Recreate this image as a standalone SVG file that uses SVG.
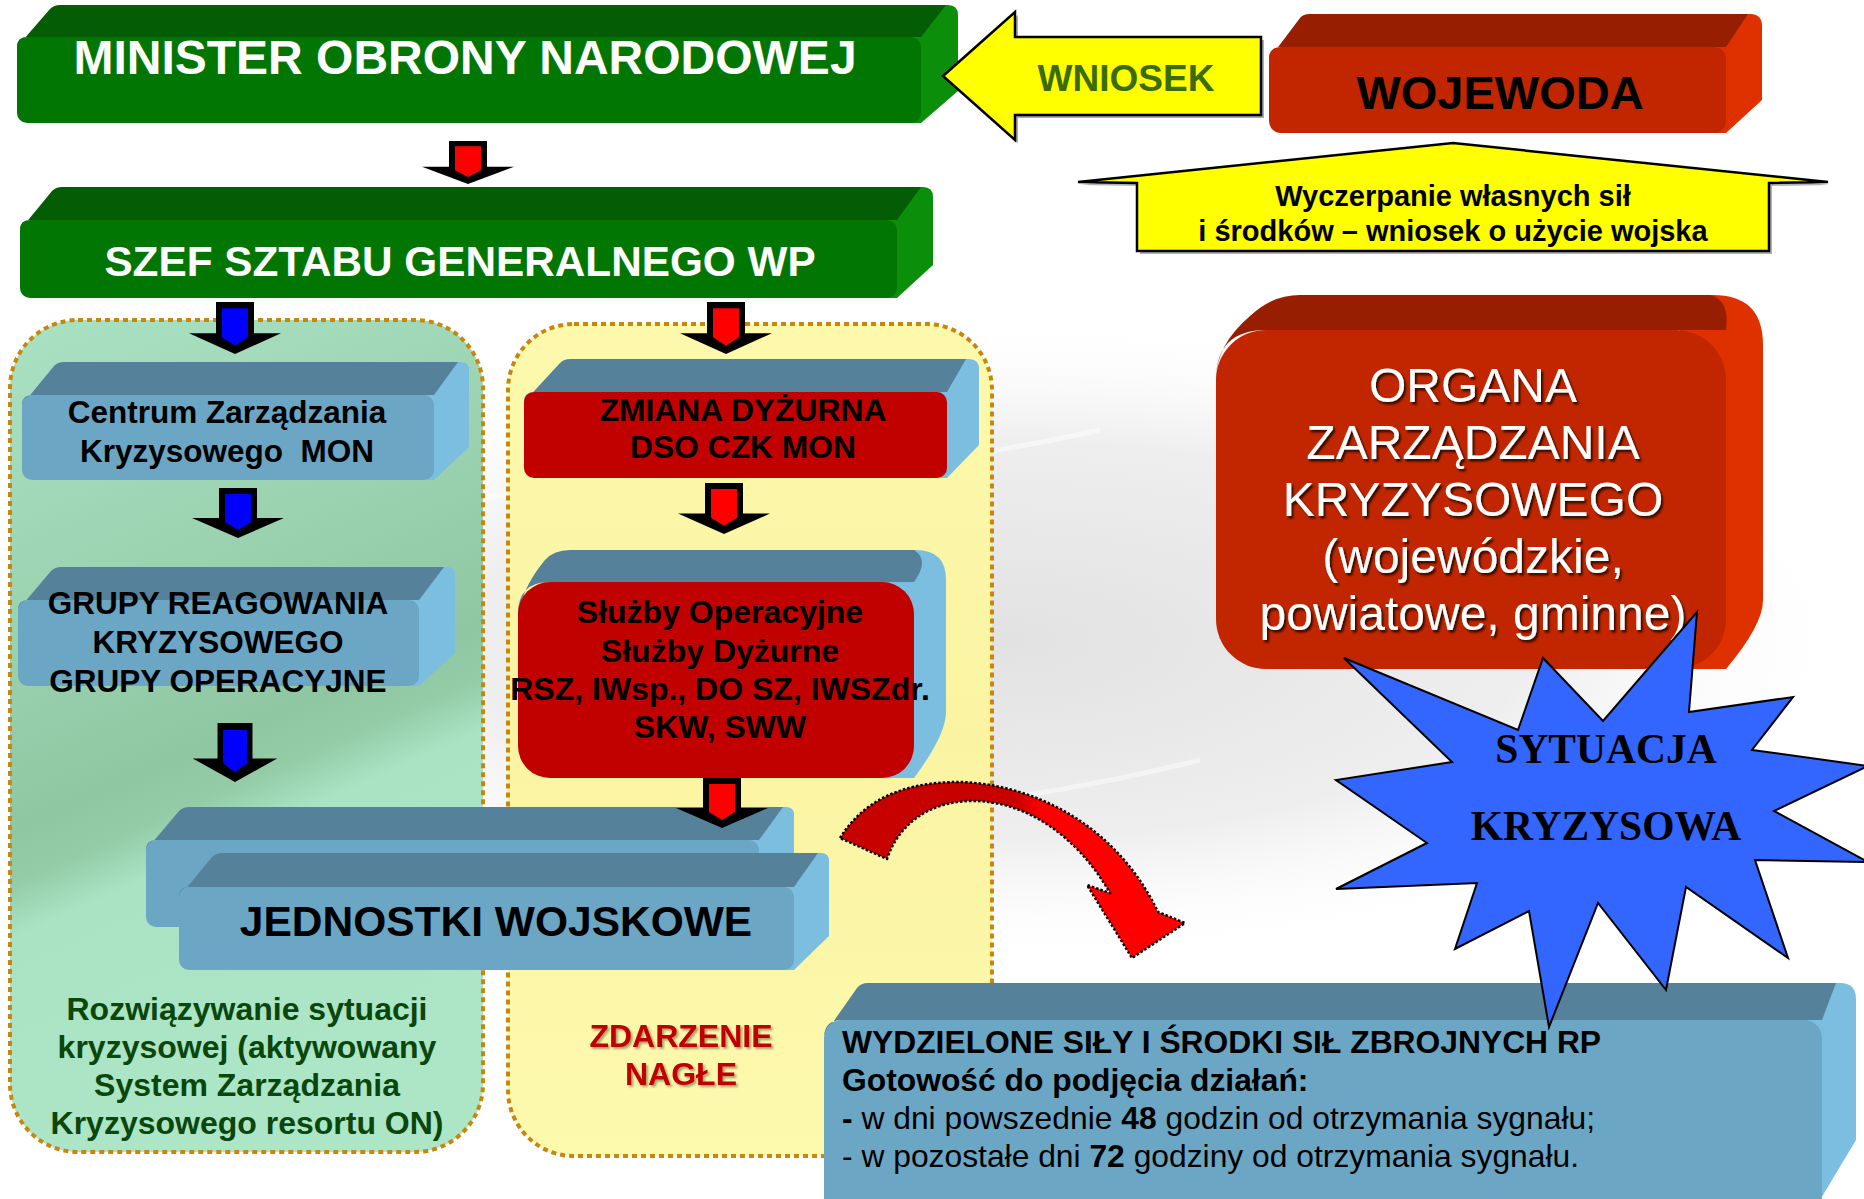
<svg xmlns="http://www.w3.org/2000/svg" xmlns:xlink="http://www.w3.org/1999/xlink" width="1864" height="1199" viewBox="0 0 1864 1199">
<defs>
<style>
.b{font-family:"Liberation Sans",Arial,sans-serif;font-weight:bold}
.r{font-family:"Liberation Sans",Arial,sans-serif}
.t{font-family:"Liberation Serif","Times New Roman",serif;font-weight:bold}
.cont{stroke:#c8860c;stroke-width:4;stroke-dasharray:5 4}
.arrowOut{fill:#000}
.gTop{fill:#045d04}.gFront{fill:#027602}.gSide{fill:#0b8f0b}
.rTop{fill:#971e00}.rFront{fill:#c12600}.rSide{fill:#df3100}
.bTop{fill:#55829a}.bFront{fill:#6ba6c4}.bSide{fill:#7cbee0}
.redFront{fill:#c10000}
</style>
<radialGradient id="bgGray" cx="0.5" cy="0.5" r="0.5">
<stop offset="0" stop-color="#e2e2e2"/>
<stop offset="0.6" stop-color="#eeeeee"/>
<stop offset="1" stop-color="#ffffff" stop-opacity="0"/>
</radialGradient>
<linearGradient id="greenCont" x1="0" y1="0" x2="0.25" y2="1">
<stop offset="0" stop-color="#a9e1c3"/>
<stop offset="0.35" stop-color="#9bd3b1"/>
<stop offset="0.58" stop-color="#8fc7a3"/>
<stop offset="0.64" stop-color="#93cca7"/>
<stop offset="0.7" stop-color="#aae3c4"/>
<stop offset="1" stop-color="#ade5c7"/>
</linearGradient>
<linearGradient id="yellowCont" x1="0" y1="0" x2="0" y2="1">
<stop offset="0" stop-color="#fdf9ac"/>
<stop offset="0.5" stop-color="#faf4a2"/>
<stop offset="1" stop-color="#fdf9ad"/>
</linearGradient>
<linearGradient id="curveGrad" gradientUnits="userSpaceOnUse" x1="840" y1="0" x2="1190" y2="0">
<stop offset="0" stop-color="#c70000"/>
<stop offset="0.5" stop-color="#c70000"/>
<stop offset="0.58" stop-color="#ff0000"/>
<stop offset="1" stop-color="#ff0000"/>
</linearGradient>
<filter id="txtShadow" x="-10%" y="-10%" width="120%" height="130%">
<feDropShadow dx="2" dy="2.5" stdDeviation="1" flood-color="#000" flood-opacity="0.75"/>
</filter>
<filter id="txtShadowLight" x="-10%" y="-10%" width="120%" height="130%">
<feDropShadow dx="2" dy="2" stdDeviation="1" flood-color="#000" flood-opacity="0.35"/>
</filter>
<g id="arrowRed">
<polygon class="arrowOut" points="-19,0 19,0 19,30 46,30 0,50 -46,30 -19,30"/>
<polygon fill="#ff0000" points="-13,6 13,6 13,34 0,42 -13,34"/>
</g>
<g id="arrowBlue">
<polygon class="arrowOut" points="-19,0 19,0 19,30 46,30 0,50 -46,30 -19,30"/>
<polygon fill="#0000ff" points="-13,6 13,6 13,34 0,42 -13,34"/>
</g>
</defs>

<!-- background -->
<rect width="1864" height="1199" fill="#ffffff"/>
<ellipse cx="1000" cy="640" rx="880" ry="330" fill="url(#bgGray)"/>
<path d="M0,560 C300,470 700,520 1100,430" fill="none" stroke="#ffffff" stroke-width="5" opacity="0.45"/>
<path d="M0,860 C400,820 800,860 1200,760" fill="none" stroke="#ffffff" stroke-width="5" opacity="0.45"/>

<!-- containers -->
<g id="containerGreen">
<rect class="cont" x="10" y="320" width="473" height="832" rx="68" ry="68" fill="url(#greenCont)"/>
</g>
<g id="containerYellow">
<rect class="cont" x="508" y="324" width="484" height="832" rx="66" ry="66" fill="url(#yellowCont)"/>
</g>

<!-- MINISTER -->
<g id="minister">
<path class="gSide" d="M901,37 L930,5 L948,5 Q958,5 958,15 L958,91 L921,123 L901,123 Z"/>
<path class="gTop" d="M17,47 L50,9 Q54,5 60,5 L946,5 L921,37 L27,37 Q17,37 17,47 Z"/>
<rect class="gFront" x="17" y="37" width="904" height="86" rx="10"/>
<text class="b" x="465" y="74" font-size="48" fill="#ffffff" text-anchor="middle">MINISTER OBRONY NARODOWEJ</text>
</g>

<!-- SZEF -->
<g id="szef">
<path class="gSide" d="M877,220 L905,187 L923,187 Q933,187 933,197 L933,265 L897,298 L877,298 Z"/>
<path class="gTop" d="M20,230 L52,191 Q56,187 62,187 L921,187 L897,220 L30,220 Q20,220 20,230 Z"/>
<rect class="gFront" x="20" y="220" width="877" height="78" rx="10"/>
<text class="b" x="460" y="276" font-size="42.3" fill="#ffffff" text-anchor="middle">SZEF SZTABU GENERALNEGO WP</text>
</g>

<!-- WOJEWODA -->
<g id="wojewoda">
<path class="rSide" d="M1706,47 L1735,14 L1750,14 Q1762,14 1762,26 L1762,100 L1726,133 L1706,133 Z"/>
<path class="rTop" d="M1269,59 L1300,18 Q1303,14 1310,14 L1748,14 L1726,47 L1281,47 Q1269,47 1269,59 Z"/>
<rect class="rFront" x="1269" y="47" width="457" height="86" rx="12"/>
<text class="b" x="1500" y="109" font-size="47" fill="#000000" text-anchor="middle">WOJEWODA</text>
</g>

<!-- WNIOSEK arrow -->
<g id="wniosek">
<polygon points="946,79 1018,15 1018,40 1264,40 1264,118 1018,118 1018,143" fill="#555" opacity="0.5"/>
<polygon points="943,76 1015,12 1015,37 1261,37 1261,115 1015,115 1015,140" fill="#ffff00" stroke="#000" stroke-width="2.5"/>
<text class="b" x="1126" y="91" font-size="37" fill="#3c6b0b" text-anchor="middle">WNIOSEK</text>
</g>

<!-- Yellow up arrow -->
<g id="wyczerpanie">
<polygon points="1455,146 1830,185 1772,186 1772,254 1140,254 1140,186 1080,185" fill="#555" opacity="0.45"/>
<polygon points="1453,143 1828,182 1769,183 1769,251 1137,251 1137,183 1078,182" fill="#ffff00" stroke="#000" stroke-width="2.5"/>
<text class="b" x="1453" y="206" font-size="29" fill="#000" text-anchor="middle">Wyczerpanie własnych sił</text>
<text class="b" x="1453" y="241" font-size="29" fill="#000" text-anchor="middle">i środków – wniosek o użycie wojska</text>
</g>

<!-- ORGANA -->
<g id="organa">
<path class="rSide" d="M1680,330 L1700,295 L1713,295 Q1763,295 1763,345 L1763,600 Q1763,625 1726,669 L1680,669 Z"/>
<path class="rTop" d="M1216,380 Q1216,345 1250,316 Q1272,295 1300,295 L1710,295 Q1730,300 1726,330 L1266,330 Q1216,330 1216,380 Z"/>
<rect class="rFront" x="1216" y="330" width="510" height="339" rx="50"/>
<g filter="url(#txtShadow)">
<text class="r" x="1473" y="402" font-size="48" fill="#ffffff" text-anchor="middle">ORGANA</text>
<text class="r" x="1473" y="459" font-size="48" fill="#ffffff" text-anchor="middle">ZARZĄDZANIA</text>
<text class="r" x="1473" y="516" font-size="48" fill="#ffffff" text-anchor="middle">KRYZYSOWEGO</text>
<text class="r" x="1473" y="573" font-size="48" fill="#ffffff" text-anchor="middle">(wojewódzkie,</text>
<text class="r" x="1473" y="630" font-size="48" fill="#ffffff" text-anchor="middle">powiatowe, gminne)</text>
</g>
</g>

<!-- Centrum -->
<g id="centrum">
<path class="bSide" d="M414,395 L443,362 L461,362 Q469,362 469,370 L469,447 L434,480 L414,480 Z"/>
<path class="bTop" d="M22,405 L54,366 Q58,362 64,362 L458,362 L434,395 L32,395 Q22,395 22,405 Z"/>
<rect class="bFront" x="22" y="395" width="412" height="85" rx="10"/>
<text class="b" x="227" y="423" font-size="31.5" fill="#000" text-anchor="middle">Centrum Zarządzania</text>
<text class="b" x="227" y="462" font-size="31.5" fill="#000" text-anchor="middle" xml:space="preserve">Kryzysowego  MON</text>
</g>

<!-- Grupy -->
<g id="grupy">
<path class="bSide" d="M399,600 L428,567 L447,567 Q455,567 455,575 L455,653 L419,686 L399,686 Z"/>
<path class="bTop" d="M18,610 L51,571 Q55,567 61,567 L444,567 L419,600 L28,600 Q18,600 18,610 Z"/>
<rect class="bFront" x="18" y="600" width="401" height="86" rx="10"/>
<text class="b" x="218" y="614" font-size="31.5" fill="#000" text-anchor="middle">GRUPY REAGOWANIA</text>
<text class="b" x="218" y="653" font-size="31.5" fill="#000" text-anchor="middle">KRYZYSOWEGO</text>
<text class="b" x="218" y="692" font-size="31.5" fill="#000" text-anchor="middle">GRUPY OPERACYJNE</text>
</g>

<!-- Zmiana -->
<g id="zmiana">
<path class="bSide" d="M927,392 L955,359 L969,359 Q979,359 979,369 L979,445 L947,478 L927,478 Z"/>
<path class="bTop" d="M524,402 L560,363 Q564,359 570,359 L966,359 L947,392 L534,392 Q524,392 524,402 Z"/>
<rect class="redFront" x="524" y="392" width="423" height="86" rx="10"/>
<text class="b" x="743" y="421" font-size="31.8" fill="#000" text-anchor="middle">ZMIANA DYŻURNA</text>
<text class="b" x="743" y="458" font-size="31.8" fill="#000" text-anchor="middle">DSO CZK MON</text>
</g>

<!-- Służby -->
<g id="sluzby">
<path class="bSide" d="M880,582 L900,550 L916,550 Q946,550 946,580 L946,712 Q946,735 914,778 L880,778 Z"/>
<path class="bTop" d="M518,620 Q520,590 545,560 Q554,550 570,550 L914,550 Q930,560 914,582 L550,582 Q518,582 518,614 Z"/>
<rect class="redFront" x="518" y="582" width="396" height="196" rx="32"/>
<text class="b" x="720" y="623" font-size="32" fill="#000" text-anchor="middle">Służby Operacyjne</text>
<text class="b" x="720" y="662" font-size="32" fill="#000" text-anchor="middle">Służby Dyżurne</text>
<text class="b" x="720" y="700" font-size="32" fill="#000" text-anchor="middle">RSZ, IWsp., DO SZ, IWSZdr.</text>
<text class="b" x="720" y="738" font-size="32" fill="#000" text-anchor="middle">SKW, SWW</text>
</g>

<!-- Jednostki -->
<g id="jednostki">
<path class="bSide" d="M739,840 L768,807 L786,807 Q794,807 794,815 L794,894 L759,927 L739,927 Z"/>
<path class="bTop" d="M146,850 L179,811 Q183,807 189,807 L783,807 L759,840 L156,840 Q146,840 146,850 Z"/>
<rect class="bFront" x="146" y="840" width="613" height="87" rx="10"/>
<path class="bSide" d="M774,887 L803,853 L821,853 Q829,853 829,861 L829,936 L794,970 L774,970 Z"/>
<path class="bTop" d="M179,897 L212,857 Q216,853 222,853 L818,853 L794,887 L189,887 Q179,887 179,897 Z"/>
<rect class="bFront" x="179" y="887" width="615" height="83" rx="10"/>
<text class="b" x="496" y="936" font-size="42.5" fill="#000" text-anchor="middle">JEDNOSTKI WOJSKOWE</text>
</g>

<!-- Container texts -->
<g id="rozwiazywanie">
<text class="b" x="247" y="1020" font-size="32" fill="#0a470a" text-anchor="middle">Rozwiązywanie sytuacji</text>
<text class="b" x="247" y="1058" font-size="32" fill="#0a470a" text-anchor="middle">kryzysowej (aktywowany</text>
<text class="b" x="247" y="1096" font-size="32" fill="#0a470a" text-anchor="middle">System Zarządzania</text>
<text class="b" x="247" y="1134" font-size="32" fill="#0a470a" text-anchor="middle">Kryzysowego resortu ON)</text>
</g>
<g id="zdarzenie" filter="url(#txtShadowLight)">
<text class="b" x="681" y="1047" font-size="32" fill="#c00000" text-anchor="middle">ZDARZENIE</text>
<text class="b" x="681" y="1085" font-size="32" fill="#c00000" text-anchor="middle">NAGŁE</text>
</g>

<!-- WYDZIELONE -->
<g id="wydzielone">
<path class="bSide" d="M1800,1020 L1828,983 L1840,983 Q1856,983 1856,999 L1856,1140 L1820,1200 L1800,1215 Z"/>
<path class="bTop" d="M824,1035 L857,988 Q861,983 868,983 L1836,983 L1822,1020 L842,1020 Q824,1020 824,1038 Z"/>
<rect class="bFront" x="824" y="1020" width="998" height="195" rx="18"/>
<text class="b" x="842" y="1053" font-size="31.8" fill="#000">WYDZIELONE SIŁY I ŚRODKI SIŁ ZBROJNYCH RP</text>
<text class="b" x="842" y="1091" font-size="31.8" fill="#000">Gotowość do podjęcia działań:</text>
<text class="r" x="842" y="1129" font-size="31.8" fill="#000"><tspan font-weight="bold">-</tspan> w dni powszednie <tspan font-weight="bold">48</tspan> godzin od otrzymania sygnału;</text>
<text class="r" x="842" y="1167" font-size="31.8" fill="#000">- w pozostałe dni <tspan font-weight="bold">72</tspan> godziny od otrzymania sygnału.</text>
</g>

<!-- SYTUACJA KRYZYSOWA star -->
<g id="sytuacja">
<polygon points="1344,658 1518,730 1543,658 1603,721 1697,612 1689,712 1793,697 1752,750 1868,766 1774,811 1868,862 1755,860 1788,958 1686,887 1666,990 1598,903 1549,1027 1529,911 1455,949 1477,883 1336,889 1427,843 1336,780 1452,762" fill="#3366ff" stroke="#000" stroke-width="2"/>
<text class="t" x="1606" y="763" font-size="41.5" fill="#000" text-anchor="middle">SYTUACJA</text>
<text class="t" x="1606" y="840" font-size="41.5" fill="#000" text-anchor="middle">KRYZYSOWA</text>
</g>

<!-- connectors -->
<g id="connectors">
<use xlink:href="#arrowRed" href="#arrowRed" transform="translate(468,141) scale(1,0.86)"/>
<use xlink:href="#arrowBlue" href="#arrowBlue" transform="translate(235,302) scale(1,1.04)"/>
<use xlink:href="#arrowRed" href="#arrowRed" transform="translate(726,302) scale(1,1.04)"/>
<use xlink:href="#arrowBlue" href="#arrowBlue" transform="translate(238,488)"/>
<use xlink:href="#arrowRed" href="#arrowRed" transform="translate(724,483) scale(1,1.02)"/>
<use xlink:href="#arrowBlue" href="#arrowBlue" transform="translate(235,723) scale(0.92,1.18)"/>
<use xlink:href="#arrowRed" href="#arrowRed" transform="translate(722,778)"/>
<path d="M840,838 C870,790 920,782 960,782 C1030,784 1115,822 1158,912 L1185,923 L1132,958 L1087,885 L1110,893 C1080,840 1030,802 975,801 C935,800 900,820 887,859 Z" fill="url(#curveGrad)" stroke="#000" stroke-width="2.5" stroke-dasharray="2.5 2" stroke-linejoin="round"/>
</g>
</svg>
